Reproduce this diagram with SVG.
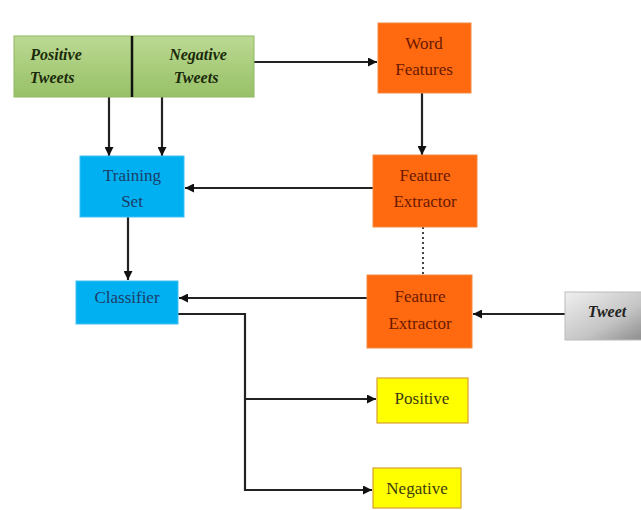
<svg xmlns="http://www.w3.org/2000/svg" width="641" height="510" viewBox="0 0 641 510">
<defs>
<linearGradient id="gGreen" x1="0" y1="0" x2="0" y2="1"><stop offset="0" stop-color="#bcd994"/><stop offset="0.5" stop-color="#a9cd7c"/><stop offset="1" stop-color="#98c068"/></linearGradient>
<linearGradient id="gGray" x1="0" y1="0" x2="1" y2="1"><stop offset="0" stop-color="#f0f0f0"/><stop offset="0.6" stop-color="#c4c4c4"/><stop offset="1" stop-color="#8a8a8a"/></linearGradient>
<marker id="arr" viewBox="0 0 10 10" refX="10" refY="5" markerWidth="9" markerHeight="9" markerUnits="userSpaceOnUse" orient="auto"><path d="M0,0 L10,5 L0,10 z" fill="#111"/></marker>
</defs>
<style>
text{font-family:"Liberation Serif","Times New Roman",serif;font-size:17px;text-anchor:middle}
.c{fill:none;stroke:#222;stroke-width:2.2}
.orange{fill:#ff6a10;stroke:#f08a40;stroke-width:1}
.orange-t{fill:#6a1800}
.blue{fill:#00b0f0;stroke:#40c0f0;stroke-width:1}
.blue-t{fill:#1d3d6a}
.yellow{fill:#ffff00;stroke:#d8a030;stroke-width:1.2}
.yellow-t{fill:#3a3a10}
.gt{fill:#1a2a0a;font-weight:bold;font-style:italic;font-size:16px}
</style>
<rect width="641" height="510" fill="#fff"/>
<g id="connectors">
<path class="c" d="M254,62 H377" marker-end="url(#arr)"/>
<path class="c" d="M422,93 V155" marker-end="url(#arr)"/>
<path class="c" d="M109,97 V156" marker-end="url(#arr)"/>
<path class="c" d="M162,97 V156" marker-end="url(#arr)"/>
<path class="c" d="M373,188 H185" marker-end="url(#arr)"/>
<path d="M423,227 V275" fill="none" stroke="#444" stroke-width="2" stroke-dasharray="2,3"/>
<path class="c" d="M128,217 V280" marker-end="url(#arr)"/>
<path class="c" d="M367,298 H179" marker-end="url(#arr)"/>
<path class="c" d="M565,314 H473" marker-end="url(#arr)"/>
<path class="c" d="M178,314 H245 V490 H372" marker-end="url(#arr)"/>
<path class="c" d="M245,399 H376" marker-end="url(#arr)"/>
</g>
<g id="tweets">
<rect x="14" y="36" width="240" height="61" fill="url(#gGreen)" stroke="#8fb860" stroke-width="1"/>
<line x1="132" y1="36" x2="132" y2="97" stroke="#111" stroke-width="2.5"/>
<text class="gt" x="56" y="60">Positive</text>
<text class="gt" x="52" y="83">Tweets</text>
<text class="gt" x="198" y="60">Negative</text>
<text class="gt" x="196" y="83">Tweets</text>
</g>
<g id="word-features">
<rect class="orange" x="378" y="23" width="93" height="70"/>
<text class="orange-t" x="424" y="49">Word</text>
<text class="orange-t" x="424" y="75">Features</text>
</g>
<g id="feature-extractor-1">
<rect class="orange" x="373" y="155" width="104" height="72"/>
<text class="orange-t" x="425" y="181">Feature</text>
<text class="orange-t" x="425" y="207">Extractor</text>
</g>
<g id="training-set">
<rect class="blue" x="80" y="156" width="104" height="61"/>
<text class="blue-t" x="132" y="181">Training</text>
<text class="blue-t" x="132" y="207">Set</text>
</g>
<g id="classifier">
<rect class="blue" x="76" y="281" width="102" height="43"/>
<text class="blue-t" x="127" y="303">Classifier</text>
</g>
<g id="feature-extractor-2">
<rect class="orange" x="367" y="275" width="105" height="73"/>
<text class="orange-t" x="420" y="302">Feature</text>
<text class="orange-t" x="420" y="329">Extractor</text>
</g>
<g id="tweet">
<rect x="565" y="292" width="80" height="48" fill="url(#gGray)" stroke="#bbb" stroke-width="1"/>
<text x="607" y="317" class="gt" style="fill:#222">Tweet</text>
</g>
<g id="positive">
<rect class="yellow" x="377" y="378" width="91" height="45"/>
<text class="yellow-t" x="422" y="404">Positive</text>
</g>
<g id="negative">
<rect class="yellow" x="373" y="468" width="88" height="40"/>
<text class="yellow-t" x="417" y="494">Negative</text>
</g>
</svg>
